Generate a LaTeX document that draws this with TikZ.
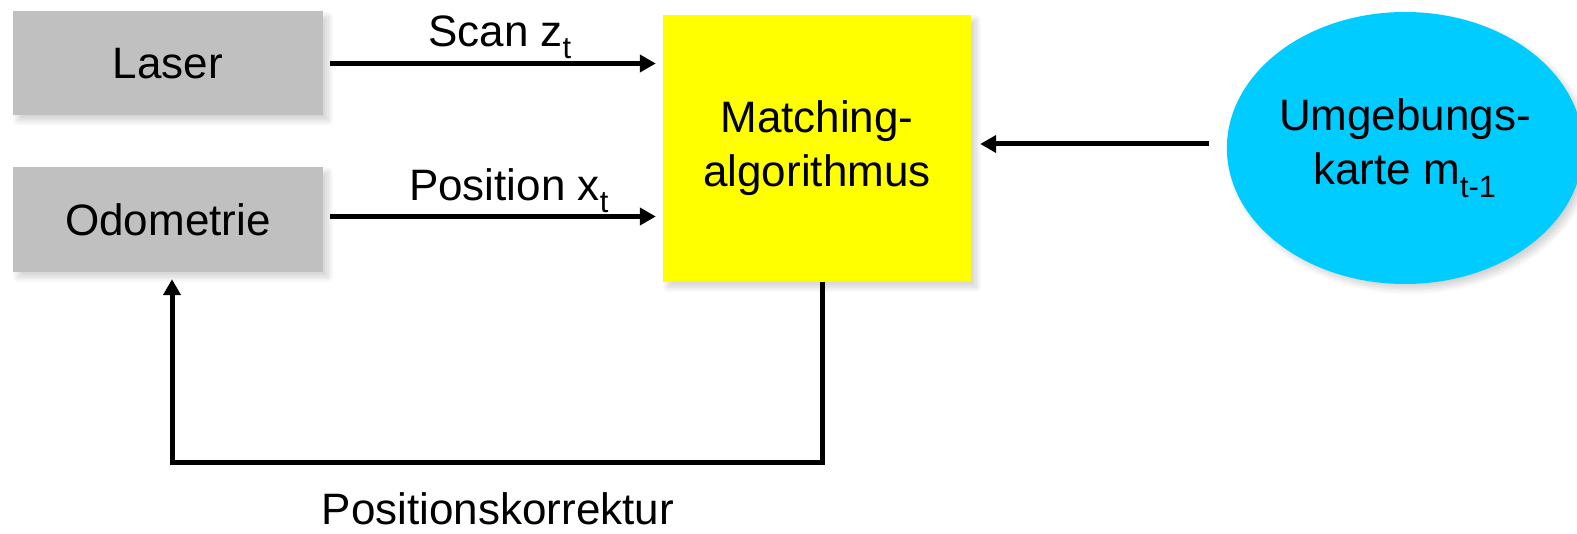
\documentclass[tikz,border=0pt]{standalone}
\usepackage{fontspec}
\setmainfont{Liberation Sans}
\usetikzlibrary{arrows.meta,shapes.geometric,shadows.blur}
\definecolor{boxgray}{HTML}{C0C0C0}
\definecolor{matchyellow}{HTML}{FFFF00}
\definecolor{mapcyan}{HTML}{00CCFF}
\newcommand{\labfont}{\fontsize{44}{54}\selectfont}
\tikzset{
  block/.style={rectangle, inner sep=0pt, font=\labfont, align=center,
    blur shadow={shadow xshift=5pt, shadow yshift=-5pt, shadow blur steps=8, shadow opacity=18, shadow blur radius=6pt}},
  sensor/.style={block, fill=boxgray, minimum width=310pt, minimum height=104pt},
  flow/.style={line width=5pt, -{Triangle[length=16pt,width=17pt]}},
  lab/.style={font=\labfont, anchor=base, inner sep=0pt}
}
\begin{document}
\begin{tikzpicture}[x=1pt,y=-1pt]
  \useasboundingbox (0,0) rectangle (1577,534);
  % input blocks
  \node[sensor] (laser) at (168,63.5) {Laser};
  \node[sensor, minimum height=105pt] (odo) at (168,219.5) {Odometrie};
  % matching block
  \node[block, fill=matchyellow, minimum width=308pt, minimum height=267pt] (match) at (817,148.5)
    {\raisebox{8pt}{\begin{tabular}{@{}c@{}}Matching-\\algorithmus\end{tabular}}};
  % map
  \node[ellipse, fill=mapcyan, inner sep=0pt, minimum width=346pt, minimum height=272pt,
        font=\labfont, align=center,
        blur shadow={shadow xshift=5pt, shadow yshift=-5pt, shadow blur steps=8, shadow opacity=18, shadow blur radius=6pt}]
    (map) at (1405,148) {Umgebungs-\\karte m\textsubscript{t-1}};
  % connectors
  \draw[flow, shorten <=7pt, shorten >=7pt] (laser.east) -- (laser.east -| match.west);
  \draw[flow, shorten <=7pt, shorten >=7pt] ([yshift=3pt]odo.east) -- ([yshift=3pt]odo.east -| match.west);
  \draw[flow, shorten <=18pt, shorten >=9pt] ([yshift=4pt]map.west) -- ([yshift=4pt]map.west -| match.east);
  \coordinate (corner) at (172,462);
  \draw[flow, shorten >=7pt] ([xshift=5pt]match.south) |- (corner) -- (corner |- odo.south);
  % labels
  \node[lab] (lscan) at (500,47) {Scan z\textsubscript{t}};
  \node[lab] (lpos) at (509,201) {Position x\textsubscript{t}};
  \node[lab] (lcorr) at (498,524) {Positionskorrektur};
\end{tikzpicture}
\end{document}
